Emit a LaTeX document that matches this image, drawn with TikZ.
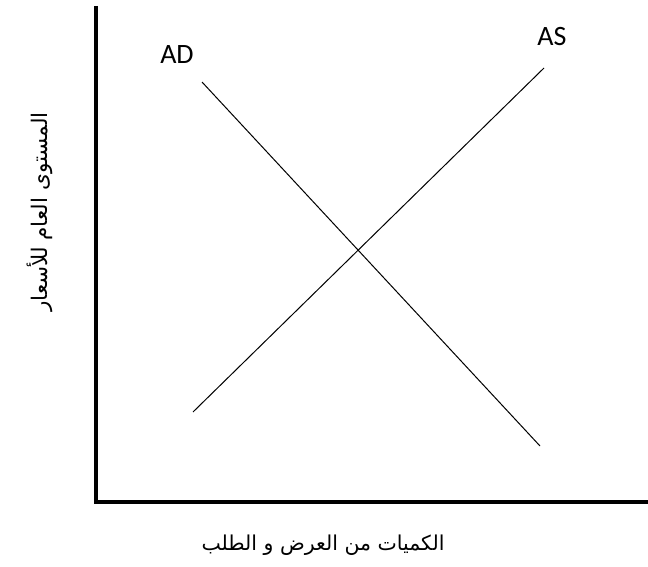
\documentclass[tikz,border=0pt]{standalone}
\usepackage{fontspec}
\setmainfont{Carlito}
\newfontfamily\arabicfont[Script=Arabic]{DejaVu Sans}
\TeXXeTstate=1
\usetikzlibrary{positioning}
\tikzstyle{axis} = [line width=3.5pt, line join=miter]
\tikzstyle{curve} = [line width=1pt]
\tikzstyle{curvelabel} = [inner sep=0pt, font=\fontsize{28}{32}\selectfont]
\tikzstyle{axislabel} = [inner sep=0pt, font=\arabicfont\fontsize{20.5}{24}\selectfont]

\begin{document}
\begin{tikzpicture}[x=1pt, y=-1pt]
    \useasboundingbox (0,0) rectangle (648,567);
    % axes
    \coordinate (ytop) at (96,6);
    \coordinate (origin) at (96,502);
    \coordinate (xend) at (648,502);
    \draw [axis] (ytop) -- (origin) -- (xend);

    % curve ends
    \coordinate (adstart) at (202,82);
    \coordinate (adend) at (540,446);
    \coordinate (asstart) at (193,412);
    \coordinate (asend) at (544,68);
    \draw [curve] (adstart) -- (adend);
    \draw [curve] (asstart) -- (asend);

    % labels
    \node (adlabel) [curvelabel] at (177,55) {AD};
    \node (aslabel) [curvelabel] at (552,37) {AS};
    \node (pricelabel) [axislabel, rotate=90, font=\arabicfont\fontsize{21.5}{24}\selectfont] at (40,212) {\beginR المستوى العام للأسعار\endR};
    \node (qtylabel) [axislabel] at (323,545) {\beginR الكميات من العرض و الطلب\endR};
\end{tikzpicture}
\end{document}
